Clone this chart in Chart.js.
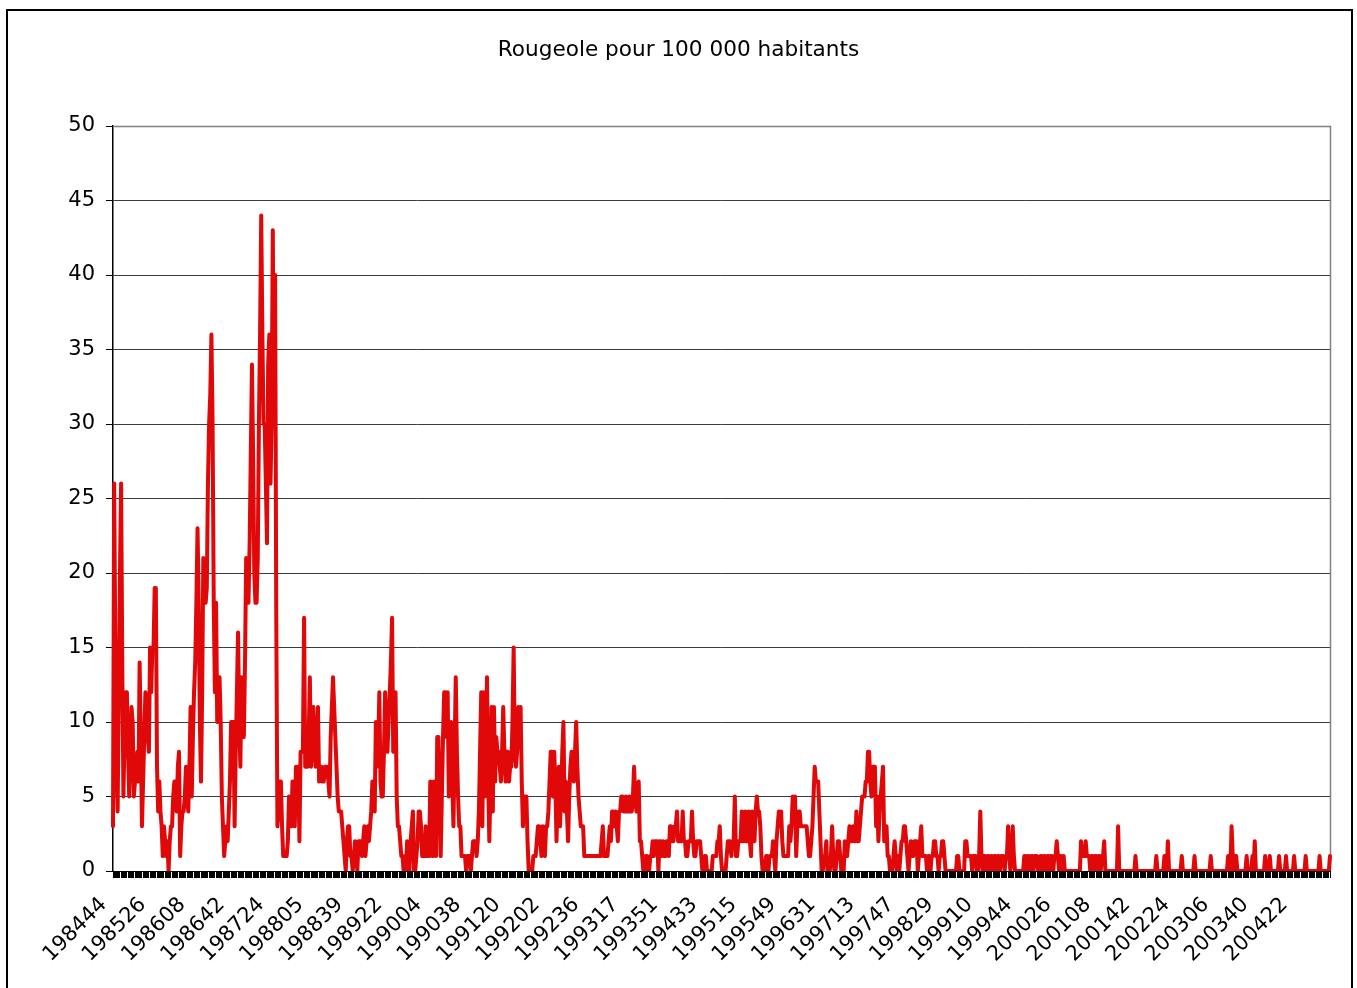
<!DOCTYPE html>
<html>
<head>
<meta charset="utf-8">
<script src="https://cdn.jsdelivr.net/npm/chart.js@4.4.1/dist/chart.umd.min.js"></script>
<style>
html,body{margin:0;padding:0;background:#fff;}
canvas{display:block;}
</style>
</head>
<body>
<canvas id="c" width="1357" height="988"></canvas>
<script>
// Weekly values (cases per 100 000), one array per year; first array starts at week 44 of 1984
const y1984 = [3,26,15,7,4,12,20,26,14];
const y1985 = [5,9,12,12,8,5,8,11,10,5, 6,7,8,6,14,9,3,6,9,12, 11,9,8,15,12,15,15,19,19,7, 4,6,4,3,1,3,2,1,2,0, 2,3,3,5,6,6,4,7,8,1, 3,4];
const y1986 = [4,5,7,5,4,7,11,5,9,12, 14,18,23,18,10,6,12,21,19,18, 19,26,30,32,36,30,18,12,18,10, 11,13,10,5,3,1,2,3,2,4, 6,10,10,10,3,8,12,16,10,7, 13,11];
const y1987 = [9,14,21,19,18,22,28,34,28,20, 18,18,21,30,36,44,36,30,30,26, 22,34,36,26,30,43,30,40,17,3, 4,6,6,3,1,1,1,1,2,5, 4,3,6,4,3,7,4,7,2,8, 8,8,17];
const y1988 = [7,9,7,9,13,7,9,11,8,7, 9,11,6,7,7,6,6,7,7,7, 6,5,9,11,13,11,9,7,5,4, 4,4,3,2,1,0,2,3,3,1, 1,0,1,2,1,0,2,2,2,1, 2];
const y1989 = [3,1,2,3,2,3,4,6,5,4, 10,7,8,12,6,5,5,8,12,10, 8,10,12,14,17,8,10,12,5,3, 3,2,1,1,0,1,0,2,1,0, 2,3,4,0,0,1,2,4,4,3, 1,1];
const y1990 = [1,3,1,1,1,6,4,1,6,4, 1,9,9,5,1,5,9,12,12,9, 12,5,7,10,6,3,8,13,8,5, 3,3,1,1,1,1,0,1,1,1, 0,1,2,2,2,1,2,4,8,12, 3,12];
const y1991 = [5,8,13,6,2,6,11,4,11,6, 9,8,8,7,6,8,11,8,6,8, 8,6,7,7,10,15,8,7,8,11, 9,11,6,3,5,5,5,2,0,0, 0,0,1,1,1,2,3,3,2,1, 3,2];
const y1992 = [1,3,3,4,6,8,8,5,8,6, 2,5,7,3,5,8,10,4,6,4, 2,5,7,8,7,6,8,10,7,5, 4,3,3,3,1,1,1,1,1,1, 1,1,1,1,1,1,1,1,1,2, 3,1,1];
const y1993 = [1,1,2,3,2,4,4,3,4,3, 2,4,4,5,5,4,4,5,4,4, 5,4,4,5,7,5,4,5,6,2, 2,1,0,0,1,1,0,0,1,1, 2,1,2,2,2,0,2,2,1,2, 1,1];
const y1994 = [2,2,1,3,3,2,2,3,3,4, 2,2,2,2,4,2,2,1,1,2, 2,2,4,2,1,1,2,2,2,2, 1,0,0,1,1,0,0,0,0,0, 1,1,1,1,2,2,3,1,0,0, 0,0];
const y1995 = [1,2,2,2,1,2,2,5,1,1, 2,2,2,4,2,2,4,2,2,4, 2,1,4,3,2,4,5,4,4,3, 1,0,0,0,1,1,0,1,1,1, 2,1,0,2,3,4,3,4,2,1, 1,1];
const y1996 = [1,1,3,2,3,5,4,5,1,3, 4,4,3,3,3,3,3,3,2,1, 1,2,3,5,7,6,6,6,4,2, 0,0,1,1,2,0,0,0,1,3, 1,0,0,1,2,2,1,0,0,0, 2,1];
const y1997 = [1,2,3,2,2,3,2,2,4,2, 2,3,4,5,5,5,6,6,8,8, 6,5,7,7,7,3,5,2,4,5, 6,7,2,2,3,1,1,0,0,0, 1,2,1,0,1,0,1,2,2,3, 3,2];
const y1998 = [1,0,1,2,1,1,2,2,2,0, 1,2,3,1,1,1,1,0,1,1, 0,1,1,2,2,1,1,0,1,1, 2,2,1,0,0,0,0,0,0,0, 0,0,0,1,1,0,0,0,0,0, 2,2,1];
const y1999 = [1,1,1,0,1,1,1,0,0,1, 4,1,0,1,1,0,1,1,0,1, 1,0,1,1,0,1,1,0,1,1, 1,0,1,1,3,1,0,1,3,1, 0,0,0,0,0,0,0,0,1,1, 0,1];
const y2000 = [1,0,1,1,0,1,1,1,0,0, 1,1,0,1,1,0,1,1,0,1, 1,0,1,1,2,1,0,1,1,0, 1,0,0,0,0,0,0,0,0,0, 0,0,0,0,0,2,1,1,1,2, 1,1];
const y2001 = [1,0,1,1,0,1,1,0,1,1, 0,1,1,2,0,0,0,0,0,0, 0,0,0,0,0,3,0,0,0,0, 0,0,0,0,0,0,0,0,0,0, 1,0,0,0,0,0,0,0,0,0, 0,0];
const y2002 = [0,0,0,0,0,0,1,0,0,0, 0,0,0,1,1,0,2,0,0,0, 0,0,0,0,0,0,0,0,1,0, 0,0,0,0,0,0,0,0,0,1, 0,0,0,0,0,0,0,0,0,0, 0,0];
const y2003 = [0,1,0,0,0,0,0,0,0,0, 0,0,0,0,0,0,1,1,0,3, 1,0,1,1,0,0,0,0,0,0, 0,0,1,0,0,0,0,1,0,2, 0,0,0,0,0,0,0,0,1,0, 0,0];
const y2004 = [1,0,0,0,0,0,0,0,1,0, 0,0,0,0,1,0,0,0,0,0, 0,1,0,0,0,0,0,0,0,0, 0,1,0,0,0,0,0,0,0,0, 0,0,0,1,0,0,0,0,0,0, 0,0,1];

// year, first week number, values
const yearSeries = [
  [1984,44,y1984],[1985,1,y1985],[1986,1,y1986],[1987,1,y1987],[1988,1,y1988],
  [1989,1,y1989],[1990,1,y1990],[1991,1,y1991],[1992,1,y1992],[1993,1,y1993],
  [1994,1,y1994],[1995,1,y1995],[1996,1,y1996],[1997,1,y1997],[1998,1,y1998],
  [1999,1,y1999],[2000,1,y2000],[2001,1,y2001],[2002,1,y2002],[2003,1,y2003],
  [2004,1,y2004]
];
const labelStep = 34;
const yTicks = {min:0, max:50, step:5};

const categories = [];
const values = [];
for (const [yr, w0, arr] of yearSeries) {
  arr.forEach((v, k) => {
    const w = w0 + k;
    categories.push(String(yr) + (w < 10 ? '0' + w : String(w)));
    values.push(v);
  });
}

const FONT = 'DejaVu Sans';

const framePlugin = {
  id: 'frame',
  beforeDraw(chart) {
    const c = chart.ctx;
    c.save();
    c.fillStyle = '#fff';
    c.fillRect(0, 0, chart.width, chart.height);
    c.strokeStyle = '#000';
    c.lineWidth = 2;
    c.strokeRect(7, 10, 1345, 1000);
    c.restore();
  },
  beforeDatasetsDraw(chart) {
    const {left, top, right, bottom} = chart.chartArea;
    const c = chart.ctx;
    c.save();
    c.strokeStyle = '#808080';
    c.lineWidth = 1.5;
    c.beginPath();
    c.moveTo(left, Math.round(top) + 0.5);
    c.lineTo(Math.round(right) + 0.5, Math.round(top) + 0.5);
    c.lineTo(Math.round(right) + 0.5, bottom);
    c.stroke();
    c.restore();
  }
};

new Chart(document.getElementById('c'), {
  type: 'line',
  data: {
    labels: categories,
    datasets: [{
      data: values,
      yAxisID: 'y',
      borderColor: 'rgb(224,8,8)',
      borderWidth: 4,
      pointRadius: 0,
      pointHoverRadius: 0,
      tension: 0,
      fill: false,
      borderJoinStyle: 'round',
      borderCapStyle: 'round'
    }]
  },
  options: {
    responsive: false,
    devicePixelRatio: 1,
    animation: false,
    events: [],
    layout: { padding: 0 },
    plugins: {
      legend: { display: false },
      tooltip: { enabled: false },
      title: {
        display: true,
        text: 'Rougeole pour 100 000 habitants',
        color: '#000',
        font: { family: FONT, size: 21.6, weight: 'normal', lineHeight: 1.2 },
        padding: { top: 37, bottom: 63.1 }
      }
    },
    scales: {
      x: {
        type: 'category',
        offset: false,
        ticks: {
          autoSkip: false,
          minRotation: 45,
          maxRotation: 45,
          color: '#000',
          padding: 5,
          font: { family: FONT, size: 21 },
          callback: (val, idx) => (idx % labelStep === 0 ? categories[idx] + '\u00A0\u00A0' : '')
        },
        grid: {
          drawOnChartArea: false,
          drawTicks: true,
          tickLength: 7,
          color: '#000',
          tickColor: '#000',
          lineWidth: 1
        },
        border: { display: true, color: '#000', width: 1 },
        afterFit(s) { s.height = 117; }
      },
      y: {
        position: 'left',
        min: yTicks.min,
        max: yTicks.max,
        ticks: {
          stepSize: yTicks.step,
          color: '#000',
          padding: 11,
          font: { family: FONT, size: 21 }
        },
        grid: {
          color: (ctx) => (ctx.tick && ctx.tick.value === yTicks.max ? '#808080' : '#3c3c3c'),
          tickColor: '#000',
          tickLength: 7,
          lineWidth: 1
        },
        border: { display: true, color: '#000', width: 1.5 },
        afterFit(s) { s.width = 113; }
      },
      yRight: {
        position: 'right',
        display: true,
        ticks: { display: false },
        grid: { display: false, drawTicks: false },
        border: { display: false },
        afterFit(s) { s.width = 27; }
      }
    }
  },
  plugins: [framePlugin]
});
</script>
</body>
</html>
